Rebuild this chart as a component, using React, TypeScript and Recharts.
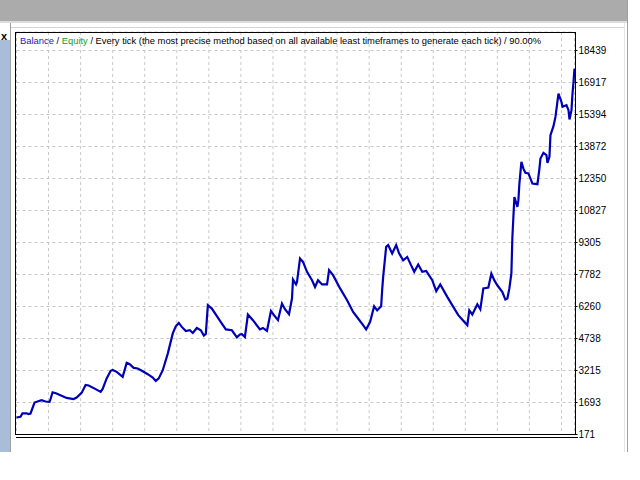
import React from 'react';
import { LineChart, Line, XAxis, YAxis, CartesianGrid } from 'recharts';

// trade number (x) and account balance
const trades = [
  0, 4, 6, 10, 12, 14, 18, 21, 25, 29, 33, 34, 36, 40, 45, 50, 57, 60, 65, 69,
  72, 79, 84, 86, 90, 94, 96, 100, 106, 110, 113, 117, 121, 126, 131, 136, 139, 142, 146, 151,
  156, 159, 162, 165, 169, 173, 176, 180, 184, 187, 189, 191, 195, 200, 205, 209, 215, 220, 223, 225,
  228, 231, 236, 243, 246, 250, 254, 257, 261, 265, 268, 272, 275, 276, 279, 280, 283, 286, 290, 295,
  298, 301, 305, 310, 312, 316, 323, 330, 336, 341, 346, 349, 353, 357, 360, 364, 365, 366, 369, 371,
  375, 379, 382, 386, 390, 393, 397, 401, 405, 409, 415, 419, 423, 430, 436, 441, 446, 450, 452, 455,
  460, 463, 466, 471, 474, 477, 480, 485, 488, 490, 492, 494, 495, 496, 497, 500, 501, 502, 504, 506,
  508, 511, 515, 520, 522, 523, 526, 529, 530, 532, 533, 536, 538, 541, 544, 545, 549, 551, 552, 554,
  555, 556, 557,
];

const balance = [
  980, 1010, 1180, 1180, 1140, 1170, 1690, 1740, 1800, 1740, 1720, 1860, 2180, 2120, 2010, 1910, 1860, 1930, 2150, 2530,
  2500, 2330, 2200, 2340, 2840, 3200, 3240, 3150, 2910, 3580, 3520, 3340, 3310, 3180, 3040, 2880, 2720, 2840, 3230, 4020,
  4980, 5320, 5480, 5290, 5090, 5130, 5000, 5240, 5130, 4880, 4960, 6320, 6160, 5800, 5450, 5170, 5130, 4790, 4930, 4940,
  4810, 5880, 5610, 5170, 5240, 5100, 6050, 5850, 5610, 6400, 6130, 5890, 6640, 7540, 7310, 7430, 8540, 8380, 7910, 7510,
  7190, 7510, 7310, 7310, 7990, 7750, 7120, 6560, 6000, 5690, 5370, 5170, 5530, 6270, 6080, 6270, 7040, 7670, 9100, 9180,
  8780, 9180, 8780, 8460, 8620, 8310, 7910, 8260, 7910, 7950, 7510, 6990, 7310, 6720, 6240, 5850, 5580, 5370, 6080, 5880,
  6370, 6130, 7120, 7160, 7830, 7500, 7270, 6950, 6590, 6640, 7120, 7830, 9570, 10520, 11470, 11000, 11320, 12110, 13140, 12820,
  12620, 12590, 12110, 12080, 12820, 13300, 13570, 13460, 13090, 13380, 14410, 14840, 15280, 16390, 15990, 15760, 15840, 15600, 15160, 15600,
  16390, 16940, 17580,
];

const yTicks = [171, 1693, 3215, 4738, 6260, 7782, 9305, 10827, 12350, 13872, 15394, 16917, 18439];
const gridTrades = [32, 64, 96, 128, 160, 192, 224, 256, 288, 320, 352, 384, 416, 448, 480, 512, 544];

const data = trades.map((t, i) => ({ trade: t, balance: balance[i] }));

const FONT = '"Liberation Sans", Arial, sans-serif';

const box = (s: React.CSSProperties): React.CSSProperties => ({ position: 'absolute', ...s });

export default function App() {
  return (
    <div
      style={{
        position: 'fixed',
        left: 0,
        top: 0,
        width: 640,
        height: 480,
        background: '#fff',
        overflow: 'hidden',
        fontFamily: FONT,
      }}
    >
      {/* window chrome */}
      <div style={box({ left: 0, top: 0, width: 627, height: 21, background: '#ababab' })} />
      <div style={box({ left: 0, top: 21, width: 627, height: 2, background: '#dcdcdc' })} />
      <div style={box({ left: 11, top: 27, width: 614, height: 1, background: '#d4d4d4' })} />
      <div style={box({ left: 0, top: 40, width: 10, height: 412, background: '#a8bdd8' })} />
      <div style={box({ left: 10, top: 23, width: 1, height: 429, background: '#a0a0a0' })} />
      <div style={box({ left: 624, top: 23, width: 1, height: 429, background: '#e4e4e4' })} />
      <div style={box({ left: 627, top: 0, width: 1, height: 452, background: '#a0a0a0' })} />
      <div style={box({ left: 1, top: 30, fontSize: 11, fontWeight: 'bold', lineHeight: '12px' })}>x</div>

      <div style={box({ left: 0, top: 0 })}>
        <LineChart
          width={640}
          height={480}
          data={data}
          margin={{ top: 32, right: 15.5, bottom: 45.5, left: 16.5 }}
        >
          <CartesianGrid stroke="#c8c8c8" strokeDasharray="3 3" />
          <XAxis
            type="number"
            dataKey="trade"
            domain={[0, 557]}
            ticks={gridTrades}
            hide
          />
          <YAxis
            orientation="right"
            type="number"
            domain={[171, 19319]}
            ticks={yTicks}
            interval={0}
            width={50}
            axisLine={false}
            tickSize={3}
            tickMargin={1}
            tickLine={{ stroke: '#000' }}
            tick={{ fontSize: 10, fill: '#000', fontFamily: FONT, textAnchor: 'start' }}
          />
          <Line
            type="linear"
            dataKey="balance"
            stroke="#0000b4"
            strokeWidth={2.2}
            dot={false}
            isAnimationActive={false}
          />
        </LineChart>
      </div>

      {/* plot frame */}
      <div
        style={box({
          left: 15,
          top: 32,
          width: 561,
          height: 403,
          border: '1px solid #000',
          boxSizing: 'border-box',
        })}
      />
      <div style={box({ left: 16, top: 437, width: 562, height: 1, background: '#000' })} />

      <div
        style={box({
          left: 20,
          top: 35,
          fontSize: 9.4,
          lineHeight: '12px',
          whiteSpace: 'nowrap',
          color: '#000',
        })}
      >
        <span style={{ color: '#1a1ab4' }}>Balance</span> /{' '}
        <span style={{ color: '#10a010' }}>Equity</span> / Every tick (the most precise method based on all
        available least timeframes to generate each tick) / 90.00%
      </div>
    </div>
  );
}
